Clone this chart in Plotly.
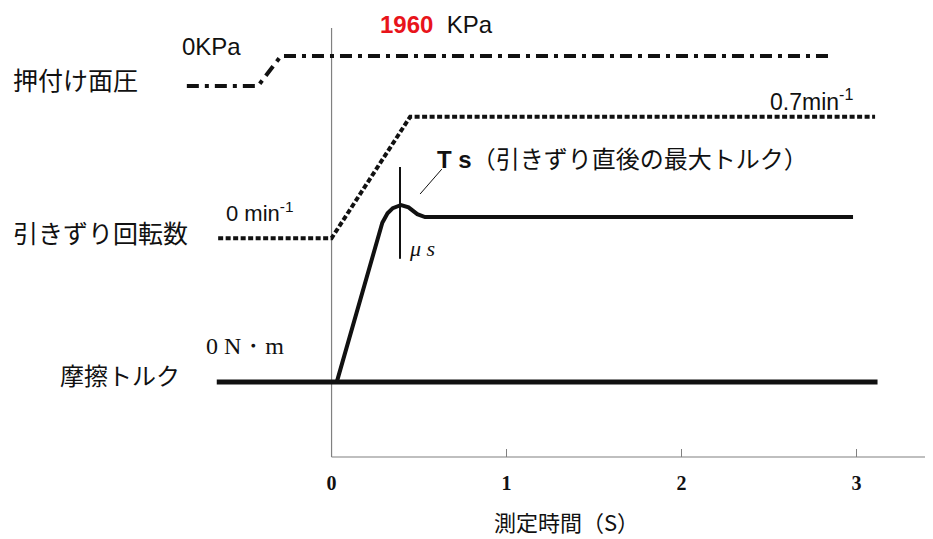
import plotly.graph_objects as go

# ---- data (schematic levels, arbitrary units; time in seconds) ----
time_pressure = [-0.827, -0.42, -0.289, 2.837]
pressure_level = [86.5, 86.5, 93.5, 93.5]

time_speed = [-0.648, 0.0, 0.449, 3.106]
speed_level = [51.0, 51.0, 79.3, 79.3]

time_torque = [0.03, 0.201, 0.29, 0.32, 0.35, 0.397, 0.44, 0.49, 0.534, 2.98]
torque_level = [17.5, 41.96, 54.6, 56.8, 58.0, 58.74, 58.2, 56.6, 55.94, 55.94]

time_base = [-0.656, 3.12]
base_level = [17.5, 17.5]

time_ts_marker = [0.391, 0.391]
ts_marker_level = [67.6, 46.2]

time_leader = [0.506, 0.630]
leader_level = [61.3, 67.1]

tick_vals = [0, 1, 2, 3]
tick_text = ["0", "1", "2", "3"]

INK = "#111111"
AXIS = "#808080"
CJK = "Noto Sans CJK JP"

fig = go.Figure()

fig.add_trace(go.Scatter(x=time_pressure, y=pressure_level, mode="lines",
                         line=dict(color=INK, width=4, dash="12px,6px,4px,6px"),
                         hoverinfo="skip"))
fig.add_trace(go.Scatter(x=time_speed, y=speed_level, mode="lines",
                         line=dict(color=INK, width=4, dash="5px,2.5px"),
                         hoverinfo="skip"))
fig.add_trace(go.Scatter(x=time_base, y=base_level, mode="lines",
                         line=dict(color=INK, width=5), hoverinfo="skip"))
fig.add_trace(go.Scatter(x=time_torque, y=torque_level, mode="lines",
                         line=dict(color=INK, width=4), hoverinfo="skip"))
fig.add_trace(go.Scatter(x=time_ts_marker, y=ts_marker_level, mode="lines",
                         line=dict(color=INK, width=2), hoverinfo="skip"))
fig.add_trace(go.Scatter(x=time_leader, y=leader_level, mode="lines",
                         line=dict(color=INK, width=1), hoverinfo="skip"))

# axis lines
fig.add_shape(type="line", xref="x", yref="y", x0=0, x1=0, y0=0, y1=100,
              line=dict(color=AXIS, width=1.2), layer="below")
fig.add_shape(type="line", xref="x", yref="paper", x0=0, x1=4, y0=0, y1=0,
              line=dict(color=AXIS, width=1.2), layer="below")

def ann(text, x, y, size, family, color=INK, xanchor="left"):
    fig.add_annotation(text=text, x=x, y=y, xref="x", yref="y", showarrow=False,
                       xanchor=xanchor, yanchor="middle",
                       font=dict(size=size, family=family, color=color))

ann("押付け面圧", -1.83, 88.0, 25, CJK)
ann("引きずり回転数", -1.83, 52.5, 25, CJK)
ann("摩擦トルク", -1.565, 19.2, 24, CJK)
ann("0KPa", -0.866, 95.6, 24, "Liberation Sans")
ann("<b><span style='color:#e8141b'>1960</span></b>  KPa", 0.266, 100.7, 24, "Liberation Sans")
ann("0.7min<sup>-1</sup>", 2.494, 83.2, 23, "Liberation Sans")
ann("0 min<sup>-1</sup>", -0.614, 57.0, 22, "Liberation Sans")
ann("0 N・m", -0.729, 25.9, 24, "Liberation Serif")
ann("<b>T s</b><span style='font-family:Noto Sans CJK JP'>（引きずり直後の最大トルク）</span>",
    0.591, 69.9, 24, "Liberation Sans")
ann("<i>μ s</i>", 0.431, 48.7, 22, "Liberation Serif")
fig.add_annotation(text="測定時間（S）", x=1.34, y=-0.143, xref="x", yref="paper",
                   showarrow=False, xanchor="center", yanchor="middle",
                   font=dict(size=22, family=CJK, color=INK))

# page body has an 8px margin, so the figure is drawn 8px smaller and offset
fig.update_layout(
    width=925, height=531,
    margin=dict(l=0, r=0, t=0, b=82),
    paper_bgcolor="white", plot_bgcolor="white",
    showlegend=False,
    xaxis=dict(range=[-1.849, 3.437], showgrid=False, zeroline=False, showline=False,
               tickvals=tick_vals, ticktext=tick_text, ticks="inside", ticklen=8,
               tickcolor=AXIS, tickwidth=1, ticklabelstandoff=12,
               tickfont=dict(family="Liberation Serif", size=20, color=INK, weight="bold"),
               fixedrange=True),
    yaxis=dict(range=[0, 104.66], visible=False, fixedrange=True),
)

fig.write_html("out.html")
